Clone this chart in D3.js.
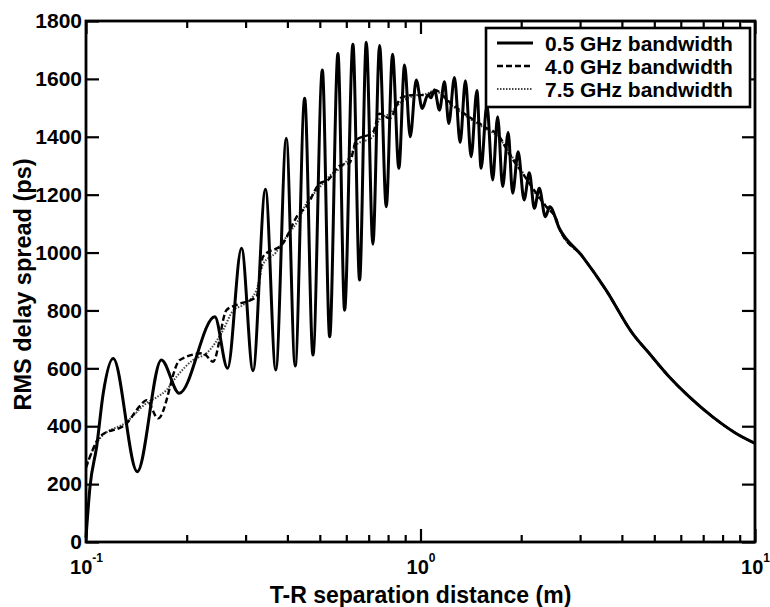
<!DOCTYPE html>
<html><head><meta charset="utf-8">
<script src="https://cdn.jsdelivr.net/npm/d3@7"></script>
<style>
html,body{margin:0;padding:0;background:#fff;}
svg{display:block;}
text{font-family:"Liberation Sans",Arial,Helvetica,sans-serif;font-weight:bold;fill:#000;}
</style></head><body>
<svg id="chart" width="770" height="607"></svg>
<script>
// ---------- data ----------
const seriesNames = ["0.5 GHz bandwidth", "4.0 GHz bandwidth", "7.5 GHz bandwidth"];
const xMajorTicks = [0.1, 1, 10];
const xMajorExponents = ["-1", "0", "1"];
const xMinorTicks = [0.2, 0.3, 0.4, 0.5, 0.6, 0.7, 0.8, 0.9, 2, 3, 4, 5, 6, 7, 8, 9];
const yTicks = [0, 200, 400, 600, 800, 1000, 1200, 1400, 1600, 1800];
const xLabel = "T-R separation distance (m)";
const yLabel = "RMS delay spread (ps)";

// common smooth tail (all bandwidths coincide)
const tailX = [2.599, 3.051, 3.584, 4.302, 4.826, 5.537, 6.353, 7.457, 8.757, 10];
const tailY = [1084, 986, 871, 721, 652, 571, 502, 433, 376, 341];

// 0.5 GHz bandwidth (solid, oscillating)
const bw05X = [0.1, 0.1028, 0.1076, 0.1126, 0.1206, 0.1423, 0.168, 0.190, 0.2427, 0.265,
  0.2917, 0.3157, 0.344, 0.3693, 0.397, 0.422, 0.4505, 0.477, 0.5088, 0.5352,
  0.5665, 0.5931, 0.628, 0.6575, 0.6887, 0.7205, 0.7546, 0.790, 0.8249, 0.8616,
  0.896, 0.9318, 0.971, 1.0118, 1.0515, 1.075, 1.101, 1.1395, 1.1793, 1.2148,
  1.2632, 1.3137, 1.3623, 1.4167, 1.4746, 1.5176, 1.5792, 1.6434, 1.7007, 1.7605,
  1.8283, 1.8856, 1.9584, 2.0399, 2.1153, 2.189, 2.2655, 2.361, 2.435];
const bw05Y = [15, 191, 329, 514, 634, 243, 629, 514, 778, 600,
  1015, 592, 1219, 594, 1395, 608, 1533, 646, 1631, 709,
  1688, 801, 1720, 905, 1727, 1029, 1715, 1158, 1685, 1291,
  1648, 1400, 1596, 1498, 1544, 1535, 1562, 1492, 1590, 1446,
  1605, 1380, 1594, 1331, 1560, 1291, 1510, 1251, 1469, 1228,
  1415, 1205, 1348, 1182, 1276, 1153, 1222, 1124, 1158];

// 4.0 GHz bandwidth (dashed)
const bw40X = [0.1, 0.1101, 0.1323, 0.1449, 0.1518, 0.1643, 0.1908, 0.2239, 0.2399, 0.263,
  0.2818, 0.3233, 0.3383, 0.3882, 0.4302, 0.4558, 0.4994, 0.5278, 0.5731, 0.6139,
  0.6428, 0.7205, 0.7546, 0.8083, 0.8758, 0.9484, 1.0515, 1.101, 1.2212, 1.353,
  1.552, 1.7215, 1.8435, 2.0436, 2.2194, 2.377, 2.547];
const bw40Y = [256, 364, 410, 470, 490, 427, 629, 652, 623, 801,
  819, 847, 986, 1032, 1130, 1158, 1239, 1250, 1300, 1310,
  1389, 1415, 1480, 1464, 1535, 1544, 1544, 1562, 1520, 1480,
  1435, 1400, 1340, 1265, 1205, 1158, 1115];

// 7.5 GHz bandwidth (dotted)
const bw75X = [0.1, 0.1101, 0.1323, 0.1518, 0.1626, 0.174, 0.1865, 0.2091, 0.2293, 0.257,
  0.2755, 0.2949, 0.3233, 0.3383, 0.3693, 0.4, 0.4302, 0.4558, 0.4994, 0.5352,
  0.5731, 0.6139, 0.6428, 0.7205, 0.7546, 0.8083, 0.8758, 0.9484, 1.0515, 1.101,
  1.2212, 1.353, 1.552, 1.7215, 1.8435, 2.0436, 2.2194, 2.377, 2.547];
const bw75Y = [265, 358, 415, 480, 500, 525, 571, 629, 652, 732,
  800, 819, 870, 960, 1000, 1060, 1110, 1170, 1225, 1265,
  1290, 1330, 1372, 1400, 1460, 1480, 1520, 1540, 1550, 1560,
  1515, 1475, 1430, 1395, 1345, 1268, 1200, 1160, 1112];

// ---------- layout ----------
const P = {left: 86, right: 755, top: 21, bottom: 542};
const svg = d3.select("#chart");

const x = d3.scaleLog().domain([0.1, 10]).range([P.left, P.right]);
const y = d3.scaleLinear().domain([0, 1800]).range([P.bottom, P.top]);

const zip = (xs, ys) => xs.map((v, i) => [v, ys[i]]);
const withTail = (xs, ys) => zip(xs, ys).concat(zip(tailX, tailY));

const series = [
  {name: seriesNames[0], data: withTail(bw05X, bw05Y), dash: null, width: 3, color: "#000"},
  {name: seriesNames[1], data: withTail(bw40X, bw40Y), dash: "6,3", width: 2.4, color: "#000"},
  {name: seriesNames[2], data: withTail(bw75X, bw75Y), dash: "1.5,1.5", width: 2, color: "#444"}
];

const line = d3.line().x(d => x(d[0])).y(d => y(d[1])).curve(d3.curveMonotoneX);

const gLines = svg.append("g");
series.slice().reverse().forEach(s => {
  gLines.append("path")
    .attr("d", line(s.data))
    .attr("fill", "none")
    .attr("stroke", s.color)
    .attr("stroke-width", s.width)
    .attr("stroke-linejoin", "round")
    .attr("stroke-dasharray", s.dash);
});

// ---------- axes ----------
function styleAxis(g) {
  g.select(".domain").remove();
  g.selectAll(".tick line").attr("stroke", "#000").attr("stroke-width", 2.2);
}

const gxb = svg.append("g").attr("transform", `translate(0,${P.bottom})`)
  .call(d3.axisBottom(x).tickValues(xMajorTicks).tickSize(-13).tickSizeOuter(0).tickPadding(18).tickFormat(() => ""));
styleAxis(gxb);
gxb.selectAll(".tick text").each(function(d, i) {
  const t = d3.select(this).attr("dy", "0.71em").attr("font-size", 20)
    .attr("font-family", "Liberation Sans, Arial, sans-serif").attr("font-weight", "bold").attr("fill", "#000");
  t.append("tspan").text("10");
  t.append("tspan").attr("font-size", 12).attr("dy", -12).text(xMajorExponents[i]);
});
const gxbm = svg.append("g").attr("transform", `translate(0,${P.bottom})`)
  .call(d3.axisBottom(x).tickValues(xMinorTicks).tickSize(-7).tickSizeOuter(0).tickFormat(() => ""));
styleAxis(gxbm);
const gxt = svg.append("g").attr("transform", `translate(0,${P.top})`)
  .call(d3.axisTop(x).tickValues(xMajorTicks).tickSize(-13).tickSizeOuter(0).tickFormat(() => ""));
styleAxis(gxt);
const gxtm = svg.append("g").attr("transform", `translate(0,${P.top})`)
  .call(d3.axisTop(x).tickValues(xMinorTicks).tickSize(-7).tickSizeOuter(0).tickFormat(() => ""));
styleAxis(gxtm);

const gyl = svg.append("g").attr("transform", `translate(${P.left},0)`)
  .call(d3.axisLeft(y).tickValues(yTicks).tickSize(-13).tickSizeOuter(0).tickPadding(4).tickFormat(d3.format("d")));
styleAxis(gyl);
gyl.selectAll(".tick text").attr("font-size", 21)
  .attr("font-family", "Liberation Sans, Arial, sans-serif").attr("font-weight", "bold").attr("fill", "#000");
const gyr = svg.append("g").attr("transform", `translate(${P.right},0)`)
  .call(d3.axisRight(y).tickValues(yTicks).tickSize(-13).tickSizeOuter(0).tickFormat(() => ""));
styleAxis(gyr);

svg.append("rect")
  .attr("x", P.left).attr("y", P.top)
  .attr("width", P.right - P.left).attr("height", P.bottom - P.top)
  .attr("fill", "none").attr("stroke", "#000").attr("stroke-width", 2.8);

svg.append("text")
  .attr("x", (P.left + P.right) / 2).attr("y", 603)
  .attr("text-anchor", "middle").attr("font-size", 23)
  .text(xLabel);
svg.append("text")
  .attr("transform", `translate(31,${(P.top + P.bottom) / 2 + 3}) rotate(-90)`)
  .attr("text-anchor", "middle").attr("font-size", 23.5)
  .text(yLabel);

// ---------- legend ----------
const L = {x: 486, y: 28, w: 264, h: 79};
const gl = svg.append("g");
gl.append("rect").attr("x", L.x).attr("y", L.y).attr("width", L.w).attr("height", L.h)
  .attr("fill", "#fff").attr("stroke", "#000").attr("stroke-width", 2.6);
series.forEach((s, i) => {
  const cy = 43 + i * 23;
  gl.append("line").attr("x1", 497).attr("x2", 533).attr("y1", cy).attr("y2", cy)
    .attr("stroke", s.color).attr("stroke-width", s.width).attr("stroke-dasharray", s.dash);
  gl.append("text").attr("x", 545).attr("y", cy).attr("dy", "0.36em")
    .attr("font-size", 21).text(s.name);
});
</script>
</body></html>
